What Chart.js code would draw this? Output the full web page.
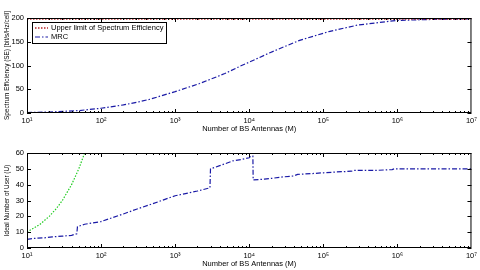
<!DOCTYPE html>
<html><head><meta charset="utf-8">
<script src="https://cdn.jsdelivr.net/npm/chart.js@4/dist/chart.umd.min.js"></script>
<style>
html,body{margin:0;padding:0;background:#fff;}
.w{position:absolute;left:0;width:480px;height:135px;}
canvas{display:block;}
</style></head><body>
<div class="w" style="top:0"><canvas id="c1" width="480" height="135"></canvas></div>
<div class="w" style="top:135px"><canvas id="c2" width="480" height="135"></canvas></div>
<script>
// ---- data ----
const xTickValues = [1e1,1e2,1e3,1e4,1e5,1e6,1e7];
const xTickLabels = ['10\u00B9','10\u00B2','10\u00B3','10\u2074','10\u2075','10\u2076','10\u2077'];
const seTickValues = [0,50,100,150,200];
const uTickValues = [0,10,20,30,40,50,60];

const limitM = [10, 1e7];
const limitSE = [198, 198];

const mrcSeM = [10,20,31.6,50,100,200,316,457,1000,2138,4677,7413,10000,19055,47863,123027,288403,1000000,3000000,10000000];
const mrcSE  = [1,2,3.5,5,10,17,23,29,45,62,83,98,107,127,153,172,185,195,197,198];

const mrcUM = [10,12,18,22,30,40,47,48,60,100,200,300,500,1000,2000,2950,3000,4000,6000,8000,10000,10500,11200,11300,16000,20000,30000,40000,45000,70000,100000,150000,240000,260000,500000,850000,900000,10000000];
const mrcU  = [5.5,6,6.5,7,7.5,8,9,13.5,15,16.7,21.5,24.5,28,33,36,38,50,52,55,56,57,58,58,43,43.5,44,45,45.5,46.5,47,47.5,48,48.5,49,49,49.5,50,50];

const mkM = [10,15,20,25,30,40,50,60];
const mkU = [10,15,20,25,30,40,50,60];

// ---- styling ----
const FONT = 'Liberation Sans, Arial, sans-serif';
const tickFont = {family: FONT, size: 7.5};
const yTitleFont = {family: FONT, size: 6.4};
const RED = '#b8262a', BLUE = '#1a1aa6', GREEN = '#22cc22';
const DASHDOT = [5,2,1.5,2], DOT = [1.5,1.5];

function pts(xs, ys){ return xs.map((x,i)=>({x:x, y:ys[i]})); }

function boxPlugin(legend){
  return {
    id:'box',
    afterDatasetsDraw(chart){
      const ctx = chart.ctx, a = chart.chartArea, xs = chart.scales.x, ys = chart.scales.y;
      ctx.save();
      ctx.strokeStyle = '#000'; ctx.lineWidth = 1; ctx.setLineDash([]);
      ctx.strokeRect(a.left+0.5, a.top+0.5, a.right-a.left-1, a.bottom-a.top-1);
      ctx.beginPath();
      for (let d=1; d<=6; d++){
        for (let k=1;k<10;k++){
          const v = Math.pow(10,d)*k;
          const px = Math.round(xs.getPixelForValue(v))+0.5;
          const len = k===1?4:2;
          ctx.moveTo(px,a.bottom); ctx.lineTo(px,a.bottom-len);
          ctx.moveTo(px,a.top); ctx.lineTo(px,a.top+len);
        }
      }
      ys.ticks.forEach(t=>{
        const py = Math.round(ys.getPixelForValue(t.value))+0.5;
        ctx.moveTo(a.left,py); ctx.lineTo(a.left+4,py);
        ctx.moveTo(a.right,py); ctx.lineTo(a.right-4,py);
      });
      ctx.stroke();
      // legend
      const b = legend.box;
      ctx.fillStyle='#fff'; ctx.fillRect(b[0],b[1],b[2],b[3]);
      ctx.strokeStyle='#000'; ctx.lineWidth=1;
      ctx.strokeRect(b[0]+0.5,b[1]+0.5,b[2],b[3]);
      ctx.font = '7.5px '+FONT; ctx.textBaseline='middle'; ctx.textAlign='left';
      legend.items.forEach((it,i)=>{
        const y = b[1] + legend.rowY[i];
        ctx.strokeStyle = it.color; ctx.lineWidth = it.width; ctx.setLineDash(it.dash);
        ctx.beginPath(); ctx.moveTo(b[0]+legend.lx0,y); ctx.lineTo(b[0]+legend.lx1,y); ctx.stroke();
        ctx.fillStyle='#000'; ctx.fillText(it.label, b[0]+legend.tx, y);
      });
      ctx.restore();
    }
  };
}

function makeChart(id, datasets, yMax, yTicks, yTitle, legend){
  return new Chart(document.getElementById(id), {
    type:'line',
    data:{datasets},
    options:{
      responsive:false, animation:false,
      layout:{padding:{top:18,right:8,left:0,bottom:0}},
      plugins:{legend:{display:false}, tooltip:{enabled:false}},
      elements:{point:{radius:0}, line:{tension:0}},
      scales:{
        x:{type:'logarithmic', min:10, max:1e7,
           afterBuildTicks(s){ s.ticks = xTickValues.map(v=>({value:v})); },
           afterFit(s){ s.height = 22; },
           ticks:{autoSkip:false, maxRotation:0, font:tickFont, color:'#000', padding:3,
                  callback(v){ const i = xTickValues.indexOf(v); return i>=0?xTickLabels[i]:''; }},
           grid:{display:false, drawTicks:false},
           border:{display:false},
           title:{display:true, text:'Number of BS Antennas (M)', font:tickFont, color:'#000', padding:{top:0,bottom:2}}
        },
        y:{type:'linear', min:0, max:yMax,
           afterBuildTicks(s){ s.ticks = yTicks.map(v=>({value:v})); },
           afterFit(s){ s.width = 27; },
           ticks:{font:tickFont, color:'#000', padding:3, callback(v){ return String(v); }},
           grid:{display:false, drawTicks:false},
           border:{display:false},
           title:{display:true, text:yTitle, font:yTitleFont, color:'#000', padding:{top:3,bottom:0}}
        }
      }
    },
    plugins:[boxPlugin(legend)]
  });
}

makeChart('c1', [
  {label:'Upper limit of Spectrum Efficiency', data:pts(limitM,limitSE), borderColor:RED, borderWidth:1.6, borderDash:DOT, fill:false},
  {label:'MRC', data:pts(mrcSeM,mrcSE), borderColor:BLUE, borderWidth:1.2, borderDash:DASHDOT, fill:false}
], 200, seTickValues, 'Spectrum Efficiency (SE) [bit/s/Hz/cell]', {
  box:[32,22,134,21], lx0:3, lx1:16, tx:19, rowY:[6,15],
  items:[
    {label:'Upper limit of Spectrum Efficiency', color:RED, width:1.6, dash:DOT},
    {label:'MRC', color:BLUE, width:1.2, dash:DASHDOT}
  ]
});

makeChart('c2', [
  {label:'MRC', data:pts(mrcUM,mrcU), borderColor:BLUE, borderWidth:1.2, borderDash:DASHDOT, fill:false},
  {label:'M=K', data:pts(mkM,mkU), borderColor:GREEN, borderWidth:1.2, borderDash:DOT, fill:false, clip:0}
], 60, uTickValues, 'Ideal Number of User (U)', {
  box:[429,213,38,21], lx0:2, lx1:18, tx:19, rowY:[5,16],
  items:[
    {label:'MRC', color:BLUE, width:1.2, dash:DASHDOT},
    {label:'M=K', color:GREEN, width:1.2, dash:DOT}
  ]
});
</script>
</body></html>
